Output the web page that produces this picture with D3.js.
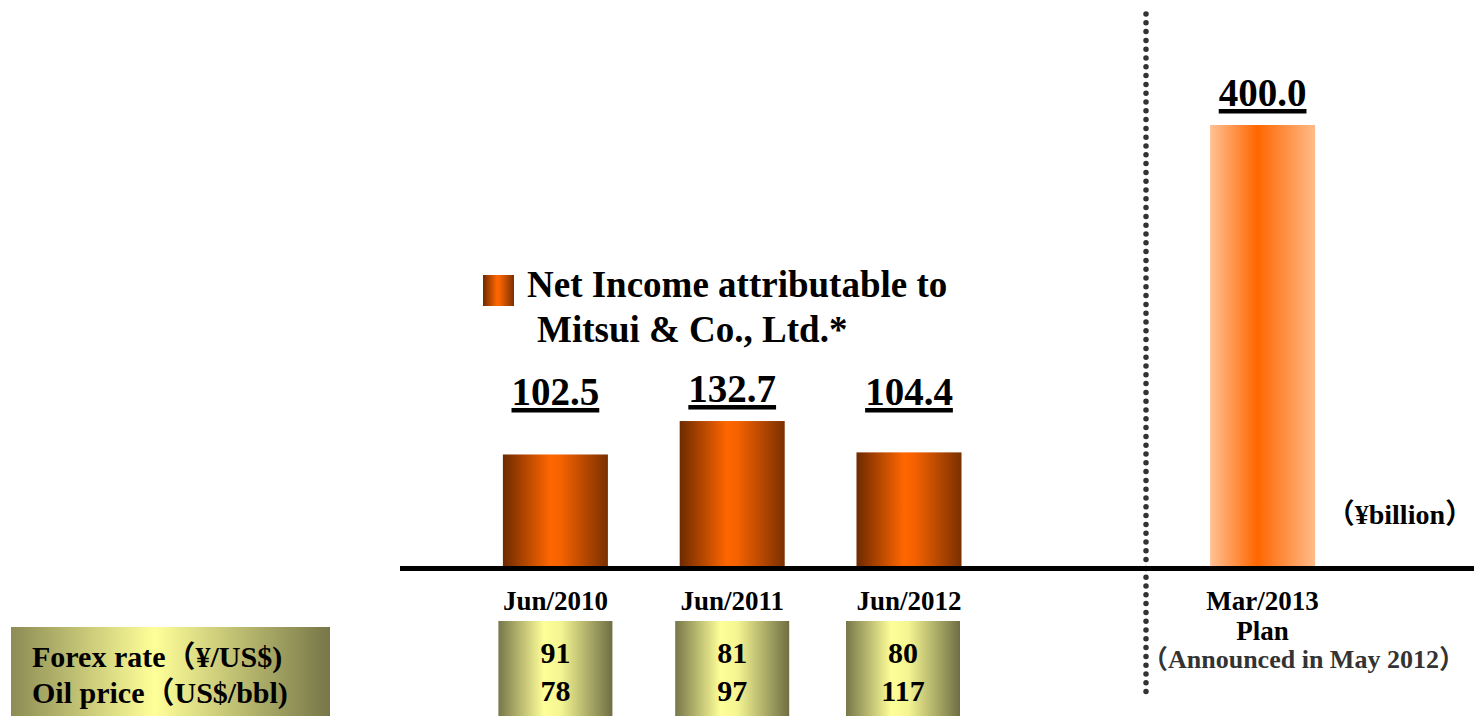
<!DOCTYPE html>
<html>
<head>
<meta charset="utf-8">
<script src="https://cdn.jsdelivr.net/npm/d3@7"></script>
<style>
  body { margin: 0; background: #fff; }
  svg { display: block; }
  text { font-family: "Liberation Serif", "Times New Roman", "Noto Sans CJK JP", serif; font-weight: bold; }
</style>
</head>
<body>
<div id="chart"></div>
<script>
// Chart data
const categories = ['Jun/2010', 'Jun/2011', 'Jun/2012', 'Mar/2013'];
const netIncome = [102.5, 132.7, 104.4, 400.0];
const isPlan = [false, false, false, true];
const forexRates = [91, 81, 80];
const oilPrices = [78, 97, 117];
const rowLabels = ['Forex rate（¥/US$)', 'Oil price（US$/bbl)'];
const planNote = ['Plan', '（Announced in May 2012）'];
const legendLines = ['Net Income attributable to', 'Mitsui & Co., Ltd.*'];
const unitLabel = '（¥billion）';

const W = 1474, H = 716;
const svg = d3.select('#chart').append('svg')
    .attr('width', W)
    .attr('height', H);

// Gradients
const defs = svg.append('defs');
function hGradient(id, stops) {
    const g = defs.append('linearGradient').attr('id', id)
        .attr('x1', '0%').attr('x2', '100%').attr('y1', '0%').attr('y2', '0%');
    stops.forEach(s => g.append('stop').attr('offset', s[0]).attr('stop-color', s[1]));
}
hGradient('barGrad', [['0%', '#6e2a00'], ['45%', '#ff6600'], ['55%', '#f56200'], ['100%', '#7a3000']]);
hGradient('planGrad', [['0%', '#ffc194'], ['45%', '#ff6600'], ['100%', '#ffbb8a']]);
hGradient('boxGrad', [['0%', '#77774a'], ['40%', '#ffff99'], ['55%', '#f4f492'], ['100%', '#6e6e44']]);
hGradient('rowGrad', [['0%', '#8c8c55'], ['45%', '#ffff99'], ['100%', '#767648']]);

// Scales: an empty slot sits between the actuals and the plan
const slots = [...categories.slice(0, 3), 'gap', categories[3]];
const x = d3.scaleBand()
    .domain(slots)
    .range([467, 1351])
    .paddingInner(0.406)
    .paddingOuter(0.203);

const baseY = 568;
const y = d3.scaleLinear()
    .domain([0, 400])
    .range([baseY, 125]);

const data = categories.map((c, i) => ({ category: c, value: netIncome[i], plan: isPlan[i] }));

// Dotted divider
svg.append('line')
    .attr('x1', 1146).attr('x2', 1146)
    .attr('y1', 14).attr('y2', 692)
    .attr('stroke', '#333')
    .attr('stroke-width', 5.5)
    .attr('stroke-linecap', 'round')
    .attr('stroke-dasharray', '0 8.8');

// Bars
svg.selectAll('.bar')
    .data(data)
    .enter()
    .append('rect')
    .attr('class', 'bar')
    .attr('x', d => x(d.category))
    .attr('y', d => y(d.value))
    .attr('width', x.bandwidth())
    .attr('height', d => baseY - y(d.value))
    .attr('fill', d => d.plan ? 'url(#planGrad)' : 'url(#barGrad)');

// Baseline
svg.append('line')
    .attr('x1', 400).attr('x2', W)
    .attr('y1', baseY + 0.5).attr('y2', baseY + 0.5)
    .attr('stroke', '#000')
    .attr('stroke-width', 5);

// Value labels, underlined
data.forEach(d => {
    const cx = x(d.category) + x.bandwidth() / 2;
    const ty = Math.min(y(d.value) - 19, 405);
    const t = svg.append('text')
        .attr('class', 'value')
        .attr('x', cx)
        .attr('y', ty)
        .attr('text-anchor', 'middle')
        .attr('font-size', 39)
        .text(d.value.toFixed(1));
    const w = t.node().getComputedTextLength();
    svg.append('rect')
        .attr('x', cx - w / 2)
        .attr('y', ty + 3)
        .attr('width', w)
        .attr('height', 4.5)
        .attr('fill', '#000');
});

// Legend
svg.append('rect')
    .attr('x', 483).attr('y', 275)
    .attr('width', 31).attr('height', 31)
    .attr('fill', 'url(#barGrad)');
svg.append('text')
    .attr('x', 527).attr('y', 297)
    .attr('font-size', 37)
    .text(legendLines[0]);
svg.append('text')
    .attr('x', 537).attr('y', 342)
    .attr('font-size', 37)
    .text(legendLines[1]);

// Unit
svg.append('text')
    .attr('x', W - 1).attr('y', 524)
    .attr('text-anchor', 'end')
    .attr('font-size', 28)
    .text(unitLabel);

// Category labels
svg.selectAll('.cat')
    .data(data)
    .enter()
    .append('text')
    .attr('class', 'cat')
    .attr('x', d => x(d.category) + x.bandwidth() / 2)
    .attr('y', 610)
    .attr('text-anchor', 'middle')
    .attr('font-size', 27)
    .text(d => d.category);

const planX = x(categories[3]) + x.bandwidth() / 2;
svg.append('text')
    .attr('x', planX).attr('y', 640)
    .attr('text-anchor', 'middle')
    .attr('font-size', 27)
    .text(planNote[0]);
svg.append('text')
    .attr('x', 1142).attr('y', 668)
    .attr('font-size', 26)
    .attr('fill', '#333')
    .text(planNote[1]);

// Row label box
svg.append('rect')
    .attr('x', 11).attr('y', 627)
    .attr('width', 319).attr('height', H - 627)
    .attr('fill', 'url(#rowGrad)');
svg.selectAll('.rowLabel')
    .data(rowLabels)
    .enter()
    .append('text')
    .attr('class', 'rowLabel')
    .attr('x', 32)
    .attr('y', (d, i) => 667 + i * 36)
    .attr('font-size', 30)
    .text(d => d);

// Forex / oil boxes
const actuals = categories.slice(0, 3);
const boxW = 114;
actuals.forEach((c, i) => {
    const cx = x(c) + x.bandwidth() / 2 - (i === 2 ? 6 : 0);
    svg.append('rect')
        .attr('x', cx - boxW / 2).attr('y', 621)
        .attr('width', boxW).attr('height', H - 621)
        .attr('fill', 'url(#boxGrad)');
    svg.append('text')
        .attr('x', cx).attr('y', 663)
        .attr('text-anchor', 'middle')
        .attr('font-size', 30)
        .text(forexRates[i]);
    svg.append('text')
        .attr('x', cx).attr('y', 701)
        .attr('text-anchor', 'middle')
        .attr('font-size', 30)
        .text(oilPrices[i]);
});
</script>
</body>
</html>
